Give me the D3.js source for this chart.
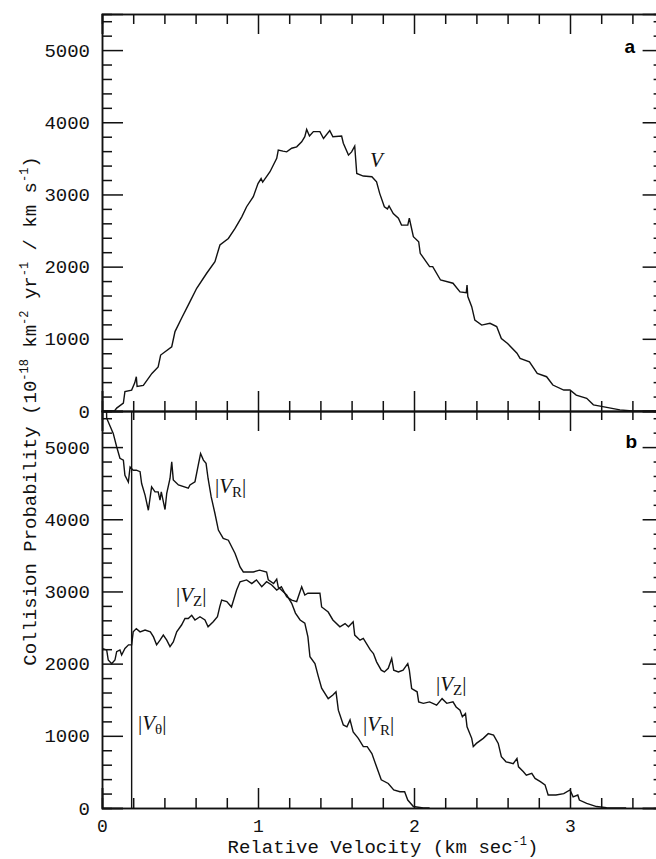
<!DOCTYPE html>
<html>
<head>
<meta charset="utf-8">
<script src="https://cdn.jsdelivr.net/npm/d3@7"></script>
<style>
  html, body { margin: 0; padding: 0; background: #fff; }
  svg { display: block; }
  .tick text { font-family: "Liberation Mono", "DejaVu Sans Mono", monospace; font-size: 19px; fill: #111; }
  .xlabels .tick text { font-size: 18px; }
  .axis path, .axis line { stroke: #111; stroke-width: 1.5px; }
</style>
</head>
<body>
<svg id="chart" width="656" height="859"></svg>
<script>
// Relative velocity (km/s) vs collision probability, histogram outlines.
// Panel a: total relative speed V
const speedV = [
  [0,0],[0.08,0],[0.094,40],[0.137,110],[0.147,270],[0.19,290],[0.21,390],[0.22,475],[0.225,340],
  [0.265,355],[0.32,520],[0.36,610],[0.376,775],[0.447,890],[0.468,1100],[0.51,1285],[0.564,1515],
  [0.607,1700],[0.67,1905],[0.724,2070],[0.756,2300],[0.81,2390],[0.853,2530],[0.896,2690],
  [0.927,2830],[0.97,2970],[1.0,3150],[1.02,3220],[1.03,3170],[1.077,3315],[1.12,3500],[1.13,3615],
  [1.16,3600],[1.184,3590],[1.216,3640],[1.248,3660],[1.28,3730],[1.30,3800],[1.312,3900],
  [1.33,3810],[1.355,3870],[1.397,3870],[1.42,3775],[1.46,3885],[1.48,3800],[1.536,3810],
  [1.547,3710],[1.58,3545],[1.60,3590],[1.62,3670],[1.633,3290],[1.675,3255],[1.73,3245],
  [1.76,3175],[1.78,3015],[1.81,2830],[1.83,2800],[1.84,2840],[1.867,2735],[1.9,2670],[1.92,2575],
  [1.96,2575],[1.97,2670],[1.996,2415],[2.03,2345],[2.04,2185],[2.10,2000],[2.12,2000],[2.17,1815],
  [2.25,1770],[2.295,1650],[2.335,1640],[2.34,1745],[2.345,1585],[2.37,1445],[2.39,1260],
  [2.434,1190],[2.487,1215],[2.53,1170],[2.56,1005],[2.60,935],[2.66,800],[2.68,730],[2.74,680],
  [2.79,520],[2.85,475],[2.89,360],[2.96,290],[3.0,290],[3.04,220],[3.107,175],[3.15,85],
  [3.21,60],[3.32,15],[3.4,0],[3.6,0]
];

// Panel b: radial component |V_R|
const radialVR = [
  [0.02,6500],[0.03,5400],[0.072,5190],[0.094,5005],[0.115,4845],[0.137,4820],[0.147,4610],
  [0.169,4515],[0.18,4725],[0.2,4680],[0.22,4680],[0.244,4660],[0.254,4495],[0.276,4335],
  [0.297,4125],[0.318,4450],[0.34,4380],[0.36,4380],[0.372,4265],[0.38,4380],[0.404,4135],
  [0.415,4360],[0.436,4565],[0.447,4795],[0.457,4545],[0.49,4475],[0.553,4430],[0.564,4475],
  [0.596,4520],[0.617,4750],[0.632,4910],[0.65,4820],[0.667,4775],[0.68,4565],[0.70,4310],
  [0.724,4080],[0.746,3850],[0.777,3735],[0.81,3710],[0.853,3525],[0.885,3340],[0.906,3270],
  [0.97,3270],[1.01,3295],[1.055,3270],[1.066,3160],[1.10,3110],[1.12,3170],[1.13,3060],
  [1.15,3020],[1.184,2950],[1.216,2835],[1.24,2700],[1.27,2605],[1.30,2560],[1.32,2370],
  [1.333,2095],[1.365,2000],[1.387,1820],[1.408,1660],[1.45,1515],[1.48,1565],[1.50,1610],
  [1.515,1355],[1.547,1150],[1.57,1125],[1.59,1220],[1.61,1055],[1.643,965],[1.675,850],
  [1.70,850],[1.73,755],[1.76,570],[1.79,390],[1.835,340],[1.87,250],[1.91,225],[1.94,225],
  [1.96,110],[1.996,20],[2.06,0],[2.1,0]
];

// Panel b: vertical component |V_Z|
const verticalVZ = [
  [0,2210],[0.03,2190],[0.04,2050],[0.062,2000],[0.083,2050],[0.094,2165],[0.115,2190],
  [0.126,2120],[0.147,2210],[0.17,2260],[0.19,2260],[0.20,2440],[0.22,2485],[0.244,2440],
  [0.276,2465],[0.31,2440],[0.33,2370],[0.35,2260],[0.372,2325],[0.393,2395],[0.415,2325],
  [0.436,2235],[0.457,2300],[0.479,2440],[0.51,2535],[0.532,2625],[0.553,2625],[0.575,2670],
  [0.596,2605],[0.628,2650],[0.66,2605],[0.68,2510],[0.713,2580],[0.74,2650],[0.755,2790],
  [0.767,2880],[0.80,2860],[0.83,2785],[0.863,3020],[0.885,3135],[0.927,3160],[0.96,3110],
  [0.99,3160],[1.024,3065],[1.055,3135],[1.088,3090],[1.12,3020],[1.15,3065],[1.184,2925],
  [1.216,2880],[1.248,2860],[1.28,3065],[1.30,2950],[1.32,2975],[1.355,2975],[1.397,2975],
  [1.408,2785],[1.45,2715],[1.48,2605],[1.525,2510],[1.558,2555],[1.58,2510],[1.61,2580],
  [1.62,2395],[1.654,2325],[1.675,2350],[1.72,2190],[1.74,2140],[1.76,2025],[1.79,1910],
  [1.81,1885],[1.835,1935],[1.857,2070],[1.87,1910],[1.90,1885],[1.93,1910],[1.96,2000],
  [1.97,1910],[1.985,1655],[2.02,1610],[2.03,1470],[2.06,1450],[2.10,1470],[2.145,1425],
  [2.18,1515],[2.21,1450],[2.25,1470],[2.27,1400],[2.295,1355],[2.31,1265],[2.33,1310],
  [2.34,1125],[2.37,965],[2.38,850],[2.40,895],[2.444,965],[2.476,1030],[2.51,1010],[2.54,895],
  [2.56,710],[2.59,640],[2.636,615],[2.66,685],[2.67,570],[2.70,505],[2.72,455],[2.755,480],
  [2.776,410],[2.81,365],[2.84,320],[2.86,180],[2.91,180],[2.96,200],[3.0,250],[3.02,155],
  [3.05,180],[3.06,110],[3.107,65],[3.17,20],[3.235,5],[3.36,0]
];

// Panel b: azimuthal component |V_theta| (a narrow spike far above the scale)
const azimuthVTheta = [[0.19,0],[0.19,9000]];

// Axis ticks
const xMajorTicks = [0, 1, 2, 3];
const xMinorTicks = [0.2,0.4,0.6,0.8,1.2,1.4,1.6,1.8,2.2,2.4,2.6,2.8,3.2,3.4];
const yMajorTicks = [0, 1000, 2000, 3000, 4000, 5000];
const yMinorTicks = [200,400,600,800,1200,1400,1600,1800,2200,2400,2600,2800,3200,3400,3600,3800,4200,4400,4600,4800,5200,5400];

const svg = d3.select("#chart");
const edgeLeft = 102, edgeRight = 663.6, edgeTop = 14, edgeMid = 411, edgeBottom = 808;

const x = d3.scaleLinear().domain([0, 3.6]).range([edgeLeft, edgeRight]);
const yA = d3.scaleLinear().domain([0, 5500]).range([edgeMid, edgeTop]);
const yB = d3.scaleLinear().domain([0, 5500]).range([edgeBottom, edgeMid]);

// clipping for each panel
const defs = svg.append("defs");
defs.append("clipPath").attr("id", "clipA").append("rect")
  .attr("x", edgeLeft).attr("y", edgeTop).attr("width", edgeRight - edgeLeft).attr("height", edgeMid - edgeTop);
defs.append("clipPath").attr("id", "clipB").append("rect")
  .attr("x", edgeLeft).attr("y", edgeMid).attr("width", edgeRight - edgeLeft).attr("height", edgeBottom - edgeMid);

function axisGroup(gen, tx, ty) {
  return svg.append("g").attr("class", "axis").attr("transform", `translate(${tx},${ty})`).call(gen);
}

// Left and right vertical axes with inward ticks, both panels
[yA, yB].forEach(y => {
  axisGroup(d3.axisRight(y).tickValues(yMinorTicks).tickSize(10).tickFormat(""), edgeLeft, 0);
  axisGroup(d3.axisRight(y).tickValues(yMajorTicks).tickSize(21).tickFormat(""), edgeLeft, 0);
  axisGroup(d3.axisLeft(y).tickValues(yMinorTicks).tickSize(10).tickFormat(""), edgeRight, 0);
  axisGroup(d3.axisLeft(y).tickValues(yMajorTicks).tickSize(21).tickFormat(""), edgeRight, 0);
  const lab = axisGroup(d3.axisLeft(y).tickValues(yMajorTicks).tickSize(0).tickPadding(12).tickFormat(d3.format("d")), edgeLeft, 0);
  lab.select(".domain").remove();
});

// Horizontal axes: top frame, shared middle axis, bottom axis
axisGroup(d3.axisBottom(x).tickValues(xMinorTicks).tickSize(10).tickFormat(""), 0, edgeTop);
axisGroup(d3.axisBottom(x).tickValues(xMajorTicks).tickSize(20).tickFormat(""), 0, edgeTop);
axisGroup(d3.axisTop(x).tickValues(xMinorTicks).tickSize(10).tickFormat(""), 0, edgeMid);
axisGroup(d3.axisTop(x).tickValues(xMajorTicks).tickSize(20).tickFormat(""), 0, edgeMid);
axisGroup(d3.axisBottom(x).tickValues(xMinorTicks).tickSize(9).tickFormat(""), 0, edgeMid);
axisGroup(d3.axisBottom(x).tickValues(xMajorTicks).tickSize(20).tickFormat(""), 0, edgeMid);
axisGroup(d3.axisTop(x).tickValues(xMinorTicks).tickSize(10).tickFormat(""), 0, edgeBottom);
axisGroup(d3.axisTop(x).tickValues(xMajorTicks).tickSize(20).tickFormat(""), 0, edgeBottom);
const xLab = axisGroup(d3.axisBottom(x).tickValues(xMajorTicks).tickSize(0).tickPadding(11).tickFormat(d3.format("d")), 0, edgeBottom)
  .classed("xlabels", true);
xLab.select(".domain").remove();

// Curves
function drawCurve(data, y, clip) {
  const line = d3.line().x(d => x(d[0])).y(d => y(d[1]));
  svg.append("path")
    .datum(data)
    .attr("clip-path", `url(#${clip})`)
    .attr("fill", "none")
    .attr("stroke", "#111")
    .attr("stroke-width", 1.4)
    .attr("d", line);
}
drawCurve(speedV, yA, "clipA");
drawCurve(radialVR, yB, "clipB");
drawCurve(verticalVZ, yB, "clipB");
drawCurve(azimuthVTheta, yB, "clipB");

// Curve labels: |V_sub|
const serif = '"Liberation Serif", "DejaVu Serif", serif';
function curveLabel(px, py, sub, bars) {
  const t = svg.append("text").attr("x", px).attr("y", py)
    .attr("font-family", serif).attr("font-size", 21).attr("fill", "#111");
  if (bars) t.append("tspan").text("|");
  t.append("tspan").attr("font-style", "italic").text("V");
  if (sub) t.append("tspan").attr("font-size", 15).attr("dy", 4).text(sub);
  if (bars) t.append("tspan").attr("dy", sub ? -4 : 0).text("|");
}
curveLabel(370, 167, null, false);
curveLabel(215, 493, "R", true);
curveLabel(176, 602, "Z", true);
curveLabel(138, 730, "\u03B8", true);
curveLabel(436, 691, "Z", true);
curveLabel(363, 731, "R", true);

// Panel letters
const sansBold = '"Liberation Sans", Arial, sans-serif';
svg.append("text").attr("x", 635).attr("y", 53).attr("text-anchor", "end")
  .attr("font-family", sansBold).attr("font-weight", "bold").attr("font-size", 19).text("a");
svg.append("text").attr("x", 637).attr("y", 448).attr("text-anchor", "end")
  .attr("font-family", sansBold).attr("font-weight", "bold").attr("font-size", 19).text("b");

// Axis titles
const mono = '"Liberation Mono", "DejaVu Sans Mono", monospace';
const xt = svg.append("text").attr("x", 383).attr("y", 853).attr("text-anchor", "middle")
  .attr("font-family", mono).attr("font-size", 19).attr("fill", "#111");
xt.append("tspan").text("Relative Velocity (km sec");
xt.append("tspan").attr("font-size", 12).attr("dy", -8).text("-1");
xt.append("tspan").attr("dy", 8).text(")");

const yt = svg.append("text").attr("transform", `translate(36,${edgeMid}) rotate(-90)`)
  .attr("text-anchor", "middle")
  .attr("font-family", mono).attr("font-size", 19).attr("fill", "#111");
const titleParts = [["Collision Probability (10", "-18"], [" km", "-2"], [" yr", "-1"], [" / km s", "-1"], [")", null]];
titleParts.forEach(([main, sup], i) => {
  yt.append("tspan").attr("dy", i === 0 ? 0 : 8).text(main);
  if (sup) yt.append("tspan").attr("font-size", 12).attr("dy", -8).text(sup);
});
</script>
</body>
</html>
